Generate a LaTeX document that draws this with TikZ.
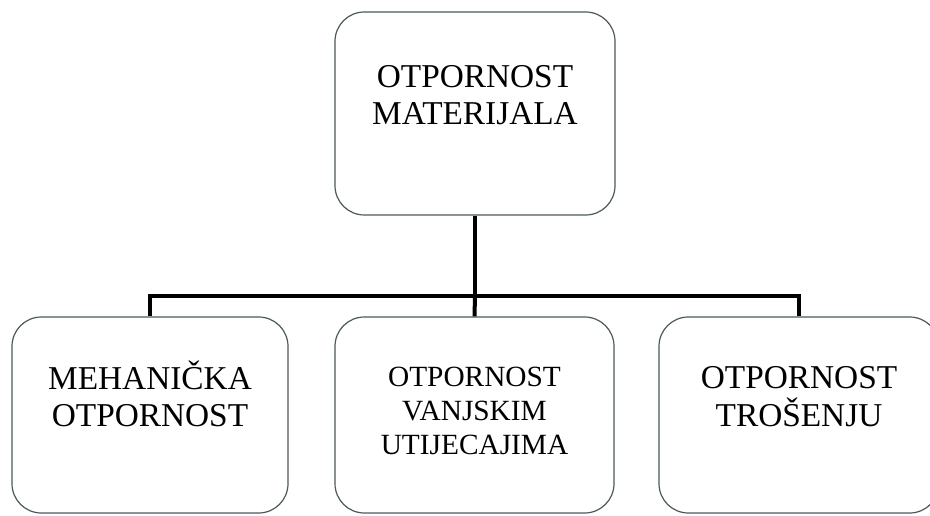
\documentclass[tikz,border=0pt]{standalone}
\usepackage{fontspec}
\setmainfont{Liberation Serif}
\usepackage{tikz}
\usetikzlibrary{calc}

\definecolor{boxgray}{RGB}{75,88,92}

\begin{document}
\begin{tikzpicture}[
	x=0.75pt, y=0.75pt,
	box/.style={draw=boxgray, line width=0.9pt, rounded corners=22pt, fill=white, inner sep=0pt},
	boxtext/.style={anchor=north, inner sep=0pt, align=center, font=\fontsize{25}{28}\selectfont},
	smalltext/.style={boxtext, font=\fontsize{22}{25.5}\selectfont},
	conn/.style={line width=3pt, black}]

	\def\boxw{279}
	\def\rowy{100}

	\useasboundingbox (0,0) rectangle (930,515);
	\clip (0,0) rectangle (930,515);

	% top
	\node [box, minimum width=280*0.75pt, minimum height=203*0.75pt] (mat) at (475,401.5) {};
	\node [boxtext, yshift=-40pt] (matT) at (mat.north) {OTPORNOST\\MATERIJALA};

	% row of three
	\node [box, minimum width=276*0.75pt, minimum height=196*0.75pt] (meh) at (150,\rowy) {};
	\node [box, minimum width=\boxw*0.75pt, minimum height=196*0.75pt] (vanj) at (474.5,\rowy) {};
	\node [box, minimum width=280*0.75pt, minimum height=196*0.75pt] (tros) at (799,\rowy) {};

	\node [boxtext, yshift=-33pt] (mehT) at (meh.north) {MEHANIČKA\\OTPORNOST};
	\node [smalltext, yshift=-37.5pt] (vanjT) at (vanj.north) {OTPORNOST\\VANJSKIM\\UTIJECAJIMA};
	\node [boxtext, yshift=-37.5pt] (trosT) at (tros.north) {OTPORNOST\\TROŠENJU};

	% connectors
	\coordinate (hub) at ($(mat.south)+(0,-80)$);
	\draw [conn] (mat.south) -- (hub);
	\draw [conn] (hub) -| (meh.north);
	\draw [conn] (hub) -| (tros.north);
	\draw [conn] (hub) -- (vanj.north);

\end{tikzpicture}
\end{document}
